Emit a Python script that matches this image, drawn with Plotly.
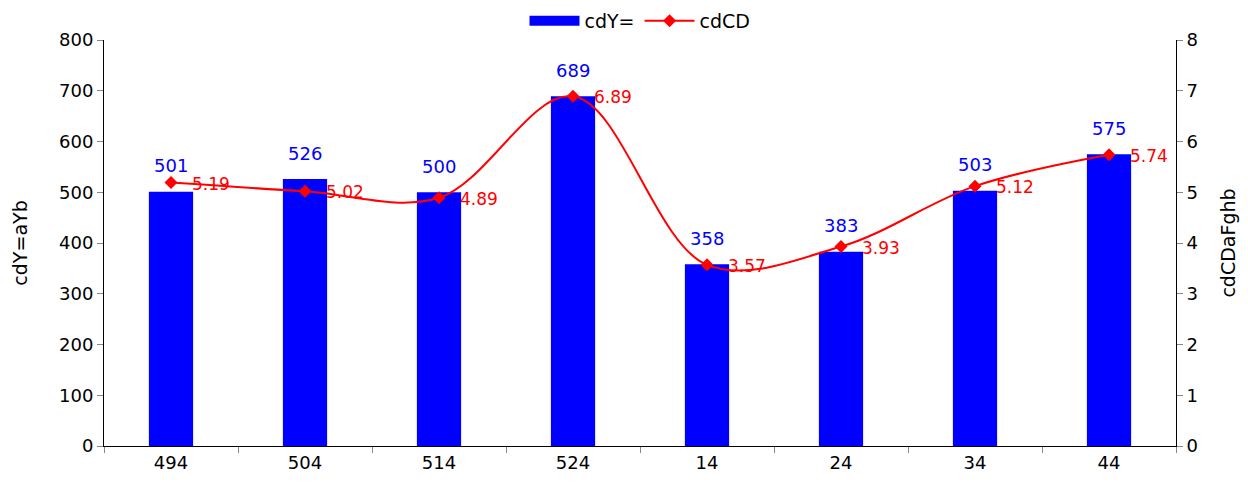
import plotly.graph_objects as go

categories = ["494", "504", "514", "524", "14", "24", "34", "44"]
bar_values = [501, 526, 500, 689, 358, 383, 503, 575]
line_values = [5.19, 5.02, 4.89, 6.89, 3.57, 3.93, 5.12, 5.74]
bar_name = "cdY="
line_name = "cdCD"
left_title = "cdY=aYb"
right_title = "cdCDaFghb"

FONT = "DejaVu Sans"

fig = go.Figure()
fig.add_trace(go.Bar(
    x=categories, y=bar_values, name=bar_name,
    marker=dict(color="#0000FF", line=dict(width=0)),
    width=0.33, yaxis="y", showlegend=False,
))
# legend-only entry to get a wide bar swatch like the reference
fig.add_trace(go.Scatter(
    x=[None], y=[None], name=bar_name, mode="lines",
    line=dict(color="#0000FF", width=10), yaxis="y",
))
fig.add_trace(go.Scatter(
    x=categories, y=line_values, name=line_name, yaxis="y2",
    mode="lines+markers",
    line=dict(color="#FF0000", width=2, shape="spline", smoothing=1.0),
    marker=dict(symbol="diamond", size=10, color="#FF0000"),
))

annotations = []
for i, v in enumerate(bar_values):
    annotations.append(dict(x=i, y=v, xref="x", yref="y", text=str(v),
                            showarrow=False, yshift=26,
                            font=dict(family=FONT, size=18, color="#0000FF")))
for i, v in enumerate(line_values):
    annotations.append(dict(x=i, y=v, xref="x", yref="y2", text=f"{v:.2f}",
                            showarrow=False, xanchor="left", xshift=19, yshift=-1,
                            font=dict(family=FONT, size=17, color="#FF0000")))

fig.update_layout(
    width=1240, height=478,
    margin=dict(l=96, r=72, t=32, b=40, autoexpand=False),
    paper_bgcolor="white", plot_bgcolor="white",
    font=dict(family=FONT, size=18, color="black"),
    showlegend=True,
    legend=dict(orientation="h", x=0.5, xanchor="center", y=1.0, yanchor="bottom",
                font=dict(family=FONT, size=19), itemwidth=50,
                traceorder="normal", tracegroupgap=0,
                bgcolor="rgba(0,0,0,0)"),
    xaxis=dict(type="category", range=[-0.5, 7.5], tickson="boundaries",
               ticks="outside", ticklen=6,
               showline=True, linecolor="black", linewidth=1, tickcolor="#888",
               showgrid=False, tickfont=dict(size=18), tickangle=0),
    yaxis=dict(range=[0, 800], dtick=100, ticks="outside", ticklen=6,
               showline=True, linecolor="black", linewidth=1, tickcolor="#888",
               showgrid=False, zeroline=False, tickfont=dict(size=18),
               title=dict(text=left_title, font=dict(size=19), standoff=26)),
    yaxis2=dict(range=[0, 8], dtick=1, overlaying="y", side="right",
                ticks="outside", ticklen=6, showline=True, linecolor="black",
                linewidth=1, tickcolor="#888", showgrid=False, zeroline=False,
                tickfont=dict(size=18),
                title=dict(text=right_title, font=dict(size=19), standoff=24)),
    annotations=annotations,
)

fig.write_html("out.html")
